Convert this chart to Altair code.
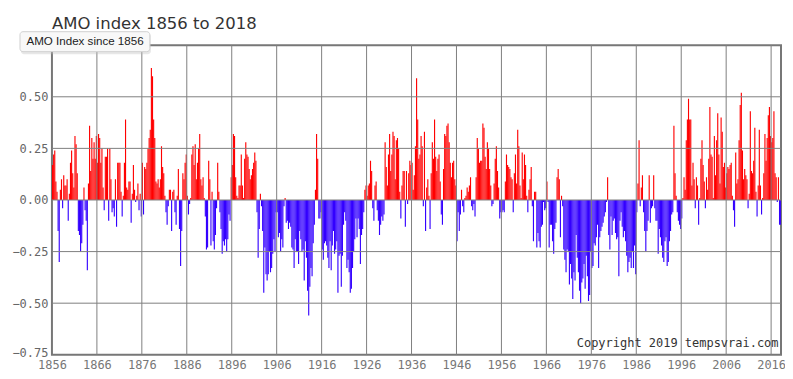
import altair as alt
import pandas as pd

# Quarterly AMO index values, 1856 Q1 onward
amo_1856_1875 = [
    0.17, 0.22, 0.24, 0.09,  0.04, -0.15, -0.30, 0.05,  0.10, -0.04, 0.12, 0.07,
    0.07, 0.10, -0.10, 0.03,  0.18, 0.24, 0.13, 0.06,  0.31, 0.27, 0.13, -0.15,
    -0.17, -0.25, -0.21, -0.12,  0.06, -0.05, -0.10, -0.34,  0.08, 0.36, 0.14, 0.30,
    0.20, 0.28, 0.20, 0.31,  0.18, 0.32, 0.30, 0.18,  0.25, 0.06, -0.05, 0.21,
    0.21, 0.25, -0.10, 0.25,  0.10, -0.06, -0.04, -0.08,  0.10, -0.13, 0.18, 0.18,
    0.18, 0.04, -0.08, 0.02,  0.18, 0.39, 0.06, 0.05,  0.09, 0.09, -0.11, 0.03,
    0.17, 0.05, -0.01, 0.02,  0.08, -0.05, 0.03, -0.08,
]
amo_1876_1895 = [
    0.18, -0.07, 0.16, 0.15,  0.18, 0.25, 0.30, 0.34,  0.64, 0.60, 0.39, 0.30,
    0.09, 0.08, 0.10, 0.06,  0.10, 0.26, 0.16, 0.13,  0.02, -0.06, -0.12, -0.03,
    0.05, 0.05, -0.15, 0.04,  0.05, -0.06, -0.12, 0.02,  0.15, -0.14, -0.32, -0.15,
    0.13, 0.10, 0.18, 0.22,  0.02, -0.07, -0.02, 0.01,  0.22, 0.26, 0.17, 0.27,
    0.10, 0.18, 0.25, 0.32,  0.10, 0.07, 0.11, 0.01,  -0.08, -0.24, -0.23, 0.19,
    0.10, -0.22, 0.04, -0.20,  -0.24, -0.17, -0.04, 0.18,  0.04, -0.06, -0.14, -0.26,
    -0.20, -0.22, -0.19, -0.25,  -0.19, -0.07, -0.10, 0.11,
]
amo_1896_1915 = [
    0.17, 0.32, 0.31, 0.11,  0.02, 0.01, 0.07, 0.07,  0.22, 0.07, 0.01, 0.20,
    0.28, 0.22, 0.21, 0.15,  0.10, 0.12, 0.15, 0.18,  0.23, 0.19, -0.06, -0.28,
    -0.14, 0.03, -0.03, -0.15,  -0.45, -0.23, -0.36, -0.39,  -0.36, -0.25, -0.35, -0.33,
    -0.26, -0.19, -0.25, -0.06,  -0.06, -0.18, -0.16, -0.25,  -0.19, -0.23, -0.03, 0.01,
    -0.11, -0.10, -0.14, -0.11,  -0.13, -0.23, -0.24, -0.33,  -0.19, -0.25, -0.25, -0.31,
    -0.15, -0.19, -0.25, -0.24,  -0.39, -0.20, -0.28, -0.44,  -0.56, -0.42, -0.33, -0.37,
    -0.21, -0.12, 0.05, 0.32,  0.20, -0.09, -0.09, -0.06,
]
amo_1916_1935 = [
    -0.24, -0.29, -0.21, -0.20,  -0.22, -0.28, -0.33, -0.20,  -0.34, -0.22, -0.15, -0.26,
    -0.24, -0.20, -0.45, -0.27,  -0.26, -0.42, -0.27, -0.12,  -0.06, -0.10, -0.33, -0.29,
    -0.35, -0.45, -0.43, -0.33,  -0.25, -0.19, -0.09, -0.18,  -0.09, -0.14, -0.31, -0.17,
    -0.14, -0.06, 0.05, 0.07,  0.02, 0.07, 0.08, 0.19,  0.14, -0.04, -0.10, 0.07,
    0.09, -0.05, -0.10, -0.17,  -0.12, -0.08, -0.10, -0.07,  0.28, 0.16, 0.07, 0.22,
    0.32, 0.14, 0.22, 0.33,  0.31, 0.10, 0.29, 0.30,  0.25, 0.04, -0.09, 0.07,
    0.14, 0.14, -0.13, 0.14,  -0.02, 0.13, 0.19, 0.17,
]
amo_1936_1955 = [
    0.18, 0.05, 0.12, 0.26,  0.59, 0.39, 0.20, 0.22,  0.31, 0.26, -0.03, 0.33,
    -0.15, 0.06, 0.10, 0.02,  -0.14, 0.13, 0.28, 0.20,  0.39, 0.21, 0.14, 0.20,
    0.22, 0.09, -0.07, -0.12,  0.15, 0.32, 0.31, 0.36,  0.37, 0.28, 0.18, 0.11,
    0.18, 0.19, 0.10, 0.07,  -0.20, -0.06, -0.15, -0.07,  0.05, -0.03, -0.06, 0.01,
    0.02, 0.06, 0.04, 0.07,  0.11, -0.03, -0.05, -0.02,  -0.08, 0.11, 0.30, 0.25,
    0.18, 0.19, 0.19, 0.37,  0.35, 0.21, 0.15, 0.28,  0.25, 0.15, 0.07, -0.03,
    -0.02, 0.08, 0.20, 0.26,  0.14, 0.06, -0.09, -0.06,
]
amo_1956_1975 = [
    -0.06, -0.05, -0.06, 0.09,  0.22, 0.17, 0.16, 0.15,  0.11, 0.10, -0.06, 0.13,
    0.22, 0.08, 0.34, 0.26,  0.07, 0.01, 0.23, 0.10,  0.22, 0.17, 0.02, -0.06,
    0.05, 0.10, 0.16, -0.03,  -0.20, 0.04, 0.04, -0.23,  -0.16, -0.20, -0.23, -0.13,
    -0.12, -0.01, -0.05, -0.04,  0.09, -0.01, -0.23, -0.12,  -0.12, -0.20, -0.26, -0.14,
    -0.11, 0.11, 0.15, 0.10,  -0.18, 0.02, -0.03, -0.24,  -0.29, -0.35, -0.24, -0.25,
    -0.41, -0.31, -0.38, -0.48,  -0.35, -0.39, -0.17, -0.28,  -0.35, -0.44, -0.50, -0.40,
    -0.38, -0.31, -0.43, -0.27,  -0.37, -0.49, -0.46, -0.25,
]
amo_1976_1995 = [
    -0.33, -0.32, -0.21, -0.22,  -0.18, -0.12, -0.33, -0.18,  -0.15, -0.13, -0.11, -0.08,
    -0.06, -0.01, 0.11, -0.17,  -0.24, -0.08, -0.17, -0.10,  -0.09, -0.16, -0.19, -0.18,
    -0.37, -0.10, -0.06, -0.13,  -0.18, -0.15, -0.20, -0.27,  -0.35, -0.30, -0.28, -0.33,
    -0.25, -0.33, -0.22, -0.36,  -0.06, 0.08, 0.29, -0.03,  0.06, 0.12, -0.06, -0.15,
    -0.25, -0.15, -0.10, 0.12,  -0.11, -0.04, -0.03, 0.12,  -0.04, -0.10, -0.10, -0.26,
    -0.14, -0.18, -0.22, -0.28,  -0.30, -0.20, -0.18, -0.32,  -0.30, -0.20, -0.15, -0.07,
    -0.06, 0.36, 0.13, 0.02,  -0.06, -0.10, -0.12, -0.14,
]
amo_1996_2018 = [
    -0.09, 0.01, 0.11, 0.05,  0.29, 0.39, 0.49, 0.39,  0.39, 0.07, 0.18, 0.10,
    -0.04, 0.11, 0.07, -0.12,  0.01, 0.20, 0.29, 0.17,  0.09, -0.04, 0.11, 0.05,
    0.20, 0.45, 0.22, 0.21,  0.01, 0.31, 0.12, 0.29,  0.42, 0.22, 0.08, 0.40,
    0.33, 0.16, 0.18, 0.06,  0.13, 0.16, 0.15, 0.17,  0.18, 0.02, -0.05, -0.13,
    0.23, 0.08, 0.10, 0.29,  0.46, 0.52, 0.24, 0.10,  0.15, 0.12, 0.10, -0.04,
    0.03, 0.43, 0.14, 0.13,  0.19, 0.35, 0.04, -0.08,  0.07, 0.34, 0.07, -0.07,
    0.01, 0.13, 0.32, 0.19,  0.30, 0.41, 0.45, 0.31,  0.28, 0.30, 0.43, 0.13,
    0.11, -0.01, 0.11, -0.12,  -0.12,
]

start_year = 1856
steps_per_year = 4
x_ticks = [1856, 1866, 1876, 1886, 1896, 1906, 1916, 1926, 1936, 1946, 1956,
           1966, 1976, 1986, 1996, 2006, 2016]
y_ticks = [-0.75, -0.5, -0.25, 0.0, 0.25, 0.5, 0.75]
y_labels = [-0.75, -0.5, -0.25, 0.0, 0.25, 0.5]  # 0.75 sits under the legend box
x_domain = [1856, 2018.2]
y_domain = [-0.75, 0.75]

title_text = "AMO index 1856 to 2018"
legend_text = "AMO Index since 1856"
credit_text = "Copyright 2019 tempsvrai.com"

values = (amo_1856_1875 + amo_1876_1895 + amo_1896_1915 + amo_1916_1935
          + amo_1936_1955 + amo_1956_1975 + amo_1976_1995 + amo_1996_2018)
df = pd.DataFrame({
    "t": [start_year + i / steps_per_year for i in range(len(values))],
    "v": values,
})
df["t2"] = df["t"] + 1 / steps_per_year

W, H = 730, 310

xscale = alt.Scale(domain=x_domain, nice=False, zero=False)
yscale = alt.Scale(domain=y_domain, nice=False, zero=False)

xaxis = alt.Axis(values=x_ticks, format="d", grid=False, domain=False, ticks=False,
                 labelFont="DejaVu Sans Mono", labelFontSize=12, labelColor="#777",
                 labelPadding=5, title=None, labelOverlap=False, labelFlush=False)
yaxis = alt.Axis(values=y_labels, format=".2f", grid=False, domain=False, ticks=False,
                 labelFont="DejaVu Sans Mono", labelFontSize=12, labelColor="#666",
                 labelPadding=4, title=None, labelOverlap=False, labelFlush=False,
                 labelOffset={"condition": {"test": "datum.value < -0.7", "value": -2},
                              "value": 0})

bars = alt.Chart(df).mark_rect(clip=True).encode(
    x=alt.X("t:Q", scale=xscale, axis=xaxis),
    x2="t2:Q",
    y=alt.Y("v:Q", scale=yscale, axis=yaxis),
    y2=alt.datum(0),
    color=alt.condition("datum.v >= 0", alt.value("#ff0000"), alt.value("#3300ff")),
)

xgrid = alt.Chart(pd.DataFrame({"g": x_ticks[1:]})).mark_rule(
    color="#808080", strokeWidth=1).encode(x=alt.X("g:Q", scale=xscale))
ygrid = alt.Chart(pd.DataFrame({"g": y_ticks[1:-1]})).mark_rule(
    color="#808080", strokeWidth=1).encode(y=alt.Y("g:Q", scale=yscale))

one = pd.DataFrame({"k": [0]})

title = alt.Chart(one).mark_text(
    text=title_text, font="DejaVu Sans", fontSize=16.5, color="#333",
    align="left", baseline="alphabetic").encode(x=alt.value(0), y=alt.value(-16))

shadow = alt.Chart(one).mark_rect(fill="#bbbbbb", opacity=0.35, cornerRadius=3).encode(
    x=alt.value(-31), x2=alt.value(99), y=alt.value(-12), y2=alt.value(9))
box = alt.Chart(one).mark_rect(fill="#f8f8f8", stroke="#d0d0d0", strokeWidth=1,
                               cornerRadius=3).encode(
    x=alt.value(-32), x2=alt.value(98), y=alt.value(-13.5), y2=alt.value(6.5))
legend = alt.Chart(one).mark_text(
    text=legend_text, font="Liberation Sans", fontSize=11.6, color="#222",
    align="left", baseline="alphabetic").encode(x=alt.value(-25.5), y=alt.value(-0.5))

credit = alt.Chart(one).mark_text(
    text=credit_text, font="DejaVu Sans Mono", fontSize=12, color="#333",
    align="right", baseline="alphabetic").encode(x=alt.value(727.5), y=alt.value(302.5))

chart = alt.layer(bars, xgrid, ygrid, credit, title, shadow, box, legend).properties(
    width=W, height=H,
    autosize=alt.AutoSizeParams(type="none"),
    padding={"left": 44, "top": 37, "right": 4, "bottom": 16},
    background="white",
).configure_view(stroke="#777", strokeWidth=2)

chart.save("out.html", embed_options={"renderer": "svg", "actions": False})
